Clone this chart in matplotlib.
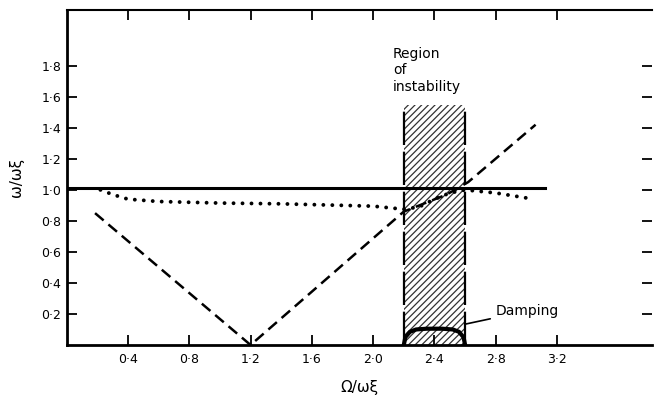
import matplotlib
matplotlib.use('Agg')
import matplotlib.pyplot as plt

# values
x_ticks = [0.4, 0.8, 1.2, 1.6, 2.0, 2.4, 2.8, 3.2]
x_tick_labels = ['0·4', '0·8', '1·2', '1·6', '2·0', '2·4', '2·8', '3·2']
y_ticks = [0.2, 0.4, 0.6, 0.8, 1.0, 1.2, 1.4, 1.6, 1.8]
y_tick_labels = ['0·2', '0·4', '0·6', '0·8', '1·0', '1·2', '1·4', '1·6', '1·8']

solid_x = [0.0, 3.12]
solid_y = [1.01, 1.01]

dotted_x = [0.22, 0.3, 0.4, 0.6, 1.0, 1.4, 1.8, 2.0, 2.2, 2.3, 2.4, 2.5, 2.6, 2.8, 3.05]
dotted_y = [1.0, 0.97, 0.94, 0.925, 0.915, 0.91, 0.90, 0.895, 0.875, 0.89, 0.94, 0.98, 1.0, 0.98, 0.94]

dashed_x = [0.185, 1.2, 2.2, 2.48, 2.62, 3.06]
dashed_y = [0.85, 0.0, 0.86, 0.97, 1.05, 1.42]

region_x = [2.2, 2.6]
region_top = 1.55

damping_x = [2.2, 2.21, 2.24, 2.28, 2.35, 2.45, 2.52, 2.56, 2.59, 2.6]
damping_y = [0.0, 0.05, 0.085, 0.1, 0.105, 0.105, 0.1, 0.085, 0.05, 0.0]

plt.rcParams['hatch.linewidth'] = 0.9

fig = plt.figure(figsize=(6.54, 3.97), dpi=100)
ax = fig.add_axes([0.102, 0.131, 0.895, 0.844])

# region of instability
ax.fill_between(region_x, 0, region_top, facecolor='white', edgecolor='#333333',
                hatch='/////', linewidth=0, zorder=1)
ax.vlines(region_x, 0, region_top, colors='black', linewidth=1.6,
          linestyles=[(0, (15, 3))], zorder=2)

# damping bump
ax.plot(damping_x, damping_y, color='black', linewidth=3, solid_capstyle='round', zorder=4)

ax.plot(solid_x, solid_y, color='black', linewidth=2.2, zorder=3)
ax.plot(dotted_x, dotted_y, color='black', linewidth=2.8, linestyle=(0, (0.01, 2.3)),
        dash_capstyle='round', zorder=3)
ax.plot(dashed_x, dashed_y, color='black', linewidth=1.8, linestyle=(0, (4.5, 2.5)), zorder=3)

ax.text(2.13, 1.62, 'Region\nof\ninstability', fontsize=10, ha='left', va='bottom',
        linespacing=1.2)
ax.annotate('Damping', xy=(2.58, 0.13), xytext=(2.8, 0.22), fontsize=10,
            va='center', ha='left',
            arrowprops=dict(arrowstyle='-', color='black', linewidth=1.2))

ax.set_xlim(0, 3.82)
ax.set_ylim(0, 2.16)
ax.set_xticks(x_ticks)
ax.set_xticklabels(x_tick_labels, fontsize=9)
ax.set_yticks(y_ticks)
ax.set_yticklabels(y_tick_labels, fontsize=9)
ax.tick_params(axis='x', direction='in', length=7, width=1.3, top=True, pad=6)
ax.tick_params(axis='y', direction='in', length=7, width=1.3, right=True, pad=4)

for s in ['left', 'bottom']:
    ax.spines[s].set_linewidth(2)
ax.spines['top'].set_linewidth(1.5)
ax.spines['right'].set_visible(False)

ax.set_xlabel('Ω/ωξ', fontsize=11, labelpad=10)
ax.set_ylabel('ω/ωξ', fontsize=11, labelpad=12)

fig.savefig('out.png', dpi=100)
